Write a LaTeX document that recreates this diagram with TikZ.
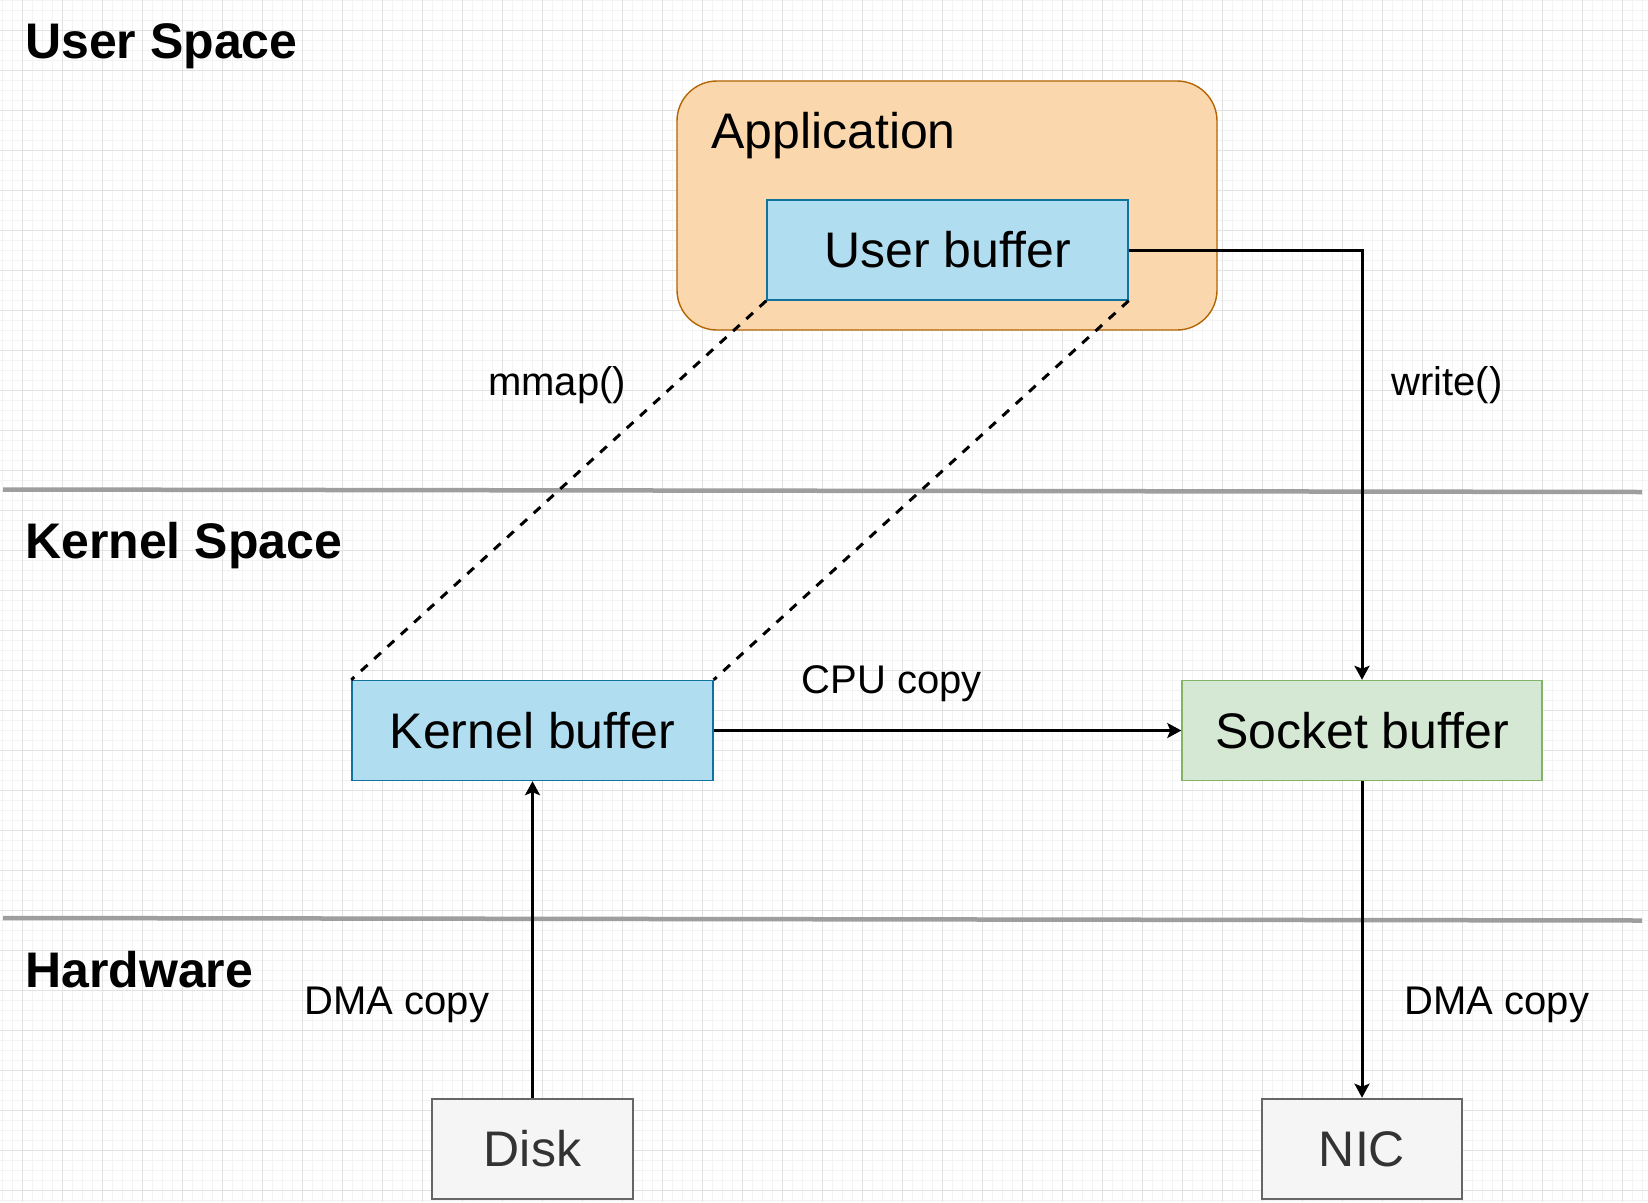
\documentclass[tikz,border=0pt]{standalone}
\usepackage{fontspec}
\setmainfont{Liberation Sans}
\usetikzlibrary{arrows.meta}
\definecolor{appfill}{HTML}{FAD7AC}
\definecolor{appdraw}{HTML}{B46504}
\definecolor{bluefill}{HTML}{B1DDF0}
\definecolor{bluedraw}{HTML}{10739E}
\definecolor{greenfill}{HTML}{D5E8D4}
\definecolor{greendraw}{HTML}{82B366}
\definecolor{grayfill}{HTML}{F5F5F5}
\definecolor{graydraw}{HTML}{666666}
\definecolor{graytext}{HTML}{333333}
\definecolor{gridminor}{HTML}{F3F3F3}
\definecolor{gridmajor}{HTML}{E2E2E2}
\definecolor{sepline}{HTML}{9E9E9E}
\tikzset{
  box/.style={rectangle, inner sep=0pt, font=\fontsize{50}{60}\selectfont},
  bluebox/.style={box, fill=bluefill, draw=bluedraw, line width=1.4pt},
  greenbox/.style={box, fill=greenfill, draw=greendraw, line width=1.4pt},
  graybox/.style={box, fill=grayfill, draw=graydraw, line width=2.6pt, text=graytext},
  title/.style={anchor=base west, inner sep=0pt, font=\fontsize{50}{60}\selectfont\bfseries},
  lbl/.style={anchor=base, inner sep=0pt, font=\fontsize{40}{48}\selectfont},
  arr/.style={line width=3pt, -{Stealth[length=14pt,width=15pt,inset=3pt]}},
  dashline/.style={line width=3pt, dash pattern=on 9pt off 9pt},
  sep/.style={line width=4.5pt, draw=sepline}
}
\begin{document}
\begin{tikzpicture}[x=1pt,y=-1pt]
\useasboundingbox (0,0) rectangle (1648,1202);
\fill[white] (0,0) rectangle (1648,1202);
% grid
\foreach \gx in {2.3,12.3,...,1648} {\draw[gridminor, line width=1pt] (\gx,0) -- (\gx,1202);}
\foreach \gy in {0,10,...,1202} {\draw[gridminor, line width=1pt] (0,\gy) -- (1648,\gy);}
\foreach \gx in {22.3,62.3,...,1648} {\draw[gridmajor, line width=1pt] (\gx,0) -- (\gx,1202);}
\foreach \gy in {30,70,...,1202} {\draw[gridmajor, line width=1pt] (0,\gy) -- (1648,\gy);}
% separators
\coordinate (s1l) at (3,489.5);
\coordinate (s1r) at (1642,492);
\coordinate (s2l) at (3,918);
\coordinate (s2r) at (1642,920.5);
\draw[sep] (s1l) -- (s1r);
\draw[sep] (s2l) -- (s2r);
% titles
\node[title] (tuser) at (25,58) {User Space};
\node[title] (tkernel) at (25,558) {Kernel Space};
\node[title] (thw) at (25,987) {Hardware};
% application
\node[rectangle, fill=appfill, draw=appdraw, line width=1.4pt, rounded corners=40pt,
      minimum width=540pt, minimum height=249pt, inner sep=0pt] (app) at (947,205.5) {};
\node[anchor=base west, inner sep=0pt, font=\fontsize{50}{60}\selectfont] (apptext) at (711,148) {Application};
% boxes
\node[bluebox, minimum width=361pt, minimum height=100pt] (ub) at (947.5,250) {User buffer};
\node[bluebox, minimum width=361pt, minimum height=100pt] (kb) at (532.5,730.5) {Kernel buffer};
\node[greenbox, minimum width=360pt, minimum height=100pt] (sb) at (1362,730.5) {Socket buffer};
\node[graybox, minimum width=201pt, minimum height=100pt] (disk) at (532.5,1149) {Disk};
\node[graybox, minimum width=200pt, minimum height=100pt] (nic) at (1362,1149) {NIC};
% connectors
\draw[dashline] (ub.south west) -- (kb.north west);
\draw[dashline] (ub.south east) -- (kb.north east);
\draw[arr] (ub.east) -| (sb.north);
\draw[arr] (kb.east) -- (sb.west);
\draw[arr] (disk.north) -- (kb.south);
\draw[arr] (sb.south) -- (nic.north);
% labels
\node[lbl] (lmmap) at (557,395) {mmap()};
\node[lbl] (lwrite) at (1447,395) {write()};
\node[lbl] (lcpu) at (892,693) {CPU copy};
\node[lbl] (ldma1) at (397,1014) {DMA copy};
\node[lbl] (ldma2) at (1497,1014) {DMA copy};
\end{tikzpicture}
\end{document}
